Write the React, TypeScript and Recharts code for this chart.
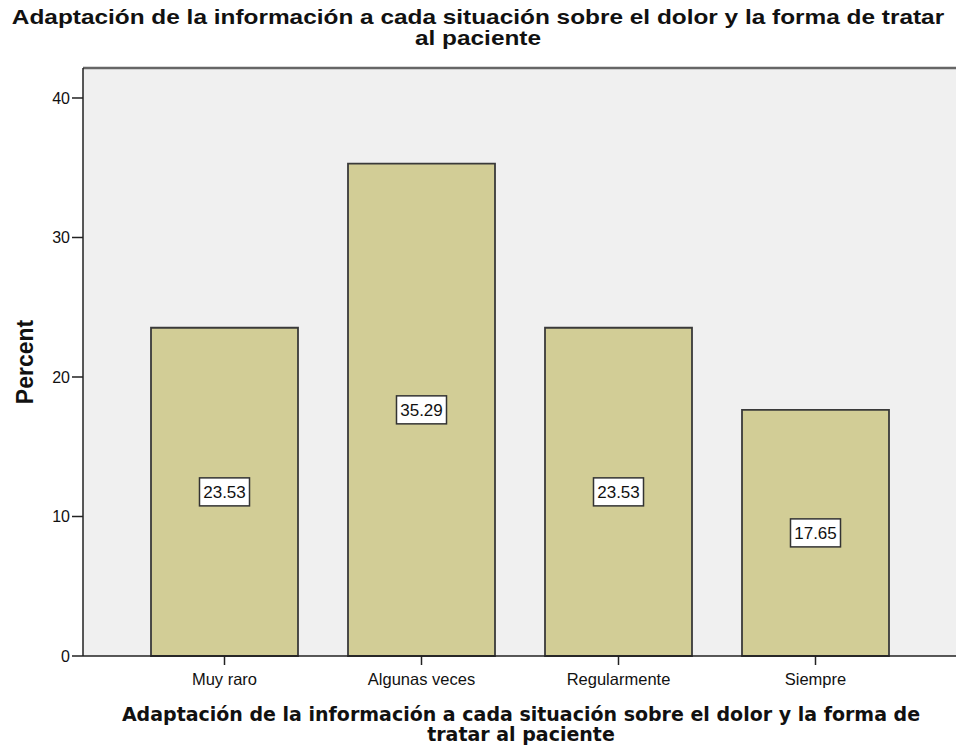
import { BarChart, Bar, XAxis, YAxis, CartesianGrid, LabelList, ReferenceLine } from 'recharts';

const categories = ['Muy raro', 'Algunas veces', 'Regularmente', 'Siempre'];
const percents = [23.53, 35.29, 23.53, 17.65];
const yTicks = [0, 10, 20, 30, 40];

const titleLines = [
  'Adaptación de la información a cada situación sobre el dolor y la forma de tratar',
  'al paciente',
];
const xTitleLines = [
  'Adaptación de la información a cada situación sobre el dolor y la forma de',
  'tratar al paciente',
];

const chartData = categories.map((name, i) => ({ name, percent: percents[i] }));

const TOP = 42.15;
const SANS = 'Liberation Sans, Arial, sans-serif';

// white boxed value in the middle of each bar
function BoxLabel(props: any) {
  const { x, y, width, height, value } = props;
  const cx = x + width / 2;
  const cy = y + height / 2;
  return (
    <g>
      <rect x={cx - 25} y={cy - 14} width={50} height={28} fill="#ffffff" stroke="#333" strokeWidth={1.5} />
      <text x={cx} y={cy + 6} textAnchor="middle" fontFamily={SANS} fontSize={17} fill="#111">
        {Number(value).toFixed(2)}
      </text>
    </g>
  );
}

export default function App() {
  return (
    <div style={{ position: 'absolute', left: 0, top: 0, width: 956, height: 746, background: '#fff' }}>
      <BarChart
        width={956}
        height={746}
        data={chartData}
        margin={{ top: 68, right: 0, left: 0, bottom: 60 }}
      >
        <CartesianGrid fill="#f0f0f0" horizontal={false} vertical={false} />
        <ReferenceLine y={TOP} stroke="#666" strokeWidth={2.5} ifOverflow="extendDomain" />
        <XAxis
          dataKey="name"
          height={30}
          padding={{ left: 43, right: 42 }}
          stroke="#222"
          strokeWidth={1.5}
          tickSize={9}
          tickMargin={8}
          tick={{ fontSize: 16.5, fill: '#111', fontFamily: SANS }}
        />
        <YAxis
          width={83}
          domain={[0, TOP]}
          ticks={yTicks}
          stroke="#222"
          strokeWidth={1.5}
          tickSize={11}
          tickMargin={2}
          tick={{ fontSize: 16, fill: '#111', fontFamily: SANS }}
        />
        <Bar dataKey="percent" fill="#d2cd96" stroke="#3a3a3a" strokeWidth={1.8} barSize={147} isAnimationActive={false}>
          <LabelList dataKey="percent" content={BoxLabel} />
        </Bar>
      </BarChart>
      <svg
        width={956}
        height={746}
        style={{ position: 'absolute', left: 0, top: 0, pointerEvents: 'none' }}
      >
        {/* title: widened glyphs like the SPSS export */}
        <g
          transform="translate(478,0) scale(1.22,1)"
          fontFamily={SANS}
          fontWeight="bold"
          fontSize={20}
          fill="#111"
          textAnchor="middle"
        >
          <text x={0} y={24}>{titleLines[0]}</text>
          <text x={0} y={45}>{titleLines[1]}</text>
        </g>
        <text
          transform="translate(33,362) rotate(-90)"
          textAnchor="middle"
          fontFamily={SANS}
          fontWeight="bold"
          fontSize={23}
          fill="#111"
        >
          Percent
        </text>
        <g fontFamily="DejaVu Sans, sans-serif" fontWeight="bold" fontSize={19} fill="#111" textAnchor="middle">
          <text x={521} y={721}>{xTitleLines[0]}</text>
          <text x={521} y={741}>{xTitleLines[1]}</text>
        </g>
      </svg>
    </div>
  );
}
